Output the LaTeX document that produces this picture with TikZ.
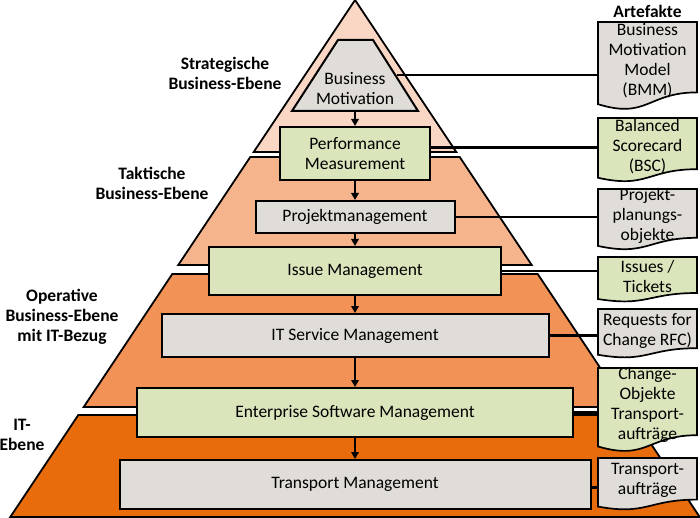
\documentclass[tikz,border=0pt]{standalone}
\usepackage{fontspec}
\setmainfont{Carlito}
\usetikzlibrary{arrows.meta, positioning}
\definecolor{stratfill}{RGB}{250,214,196}
\definecolor{taktfill}{RGB}{245,180,140}
\definecolor{operfill}{RGB}{242,146,86}
\definecolor{itfill}{RGB}{232,108,12}
\definecolor{boxgrey}{RGB}{224,220,215}
\definecolor{boxgreen}{RGB}{218,229,188}

\tikzset{
  ebene/.style={draw=black, line width=1.8pt},
  kasten/.style={draw=black, line width=2pt, inner sep=0pt, align=center},
  ebenetext/.style={font=\bfseries, align=center},
  doktext/.style={align=center, minimum width=99pt, inner sep=0pt},
  dokument/.style={draw=black, line width=1.7pt},
  pfeil/.style={line width=1.8pt, -{Triangle[length=7pt,width=7.5pt]}},
  linie/.style={line width=2.4pt},
}

\begin{document}
\fontsize{17.5}{20}\selectfont
\begin{tikzpicture}[x=1pt, y=-1pt]
  \useasboundingbox (0,0) rectangle (700,518);

  % pyramid bands
  \filldraw[ebene, fill=stratfill] (355,0) -- (456.3,152) -- (253.7,152) -- cycle;
  \filldraw[ebene, fill=taktfill] (250.3,157) -- (459.7,157) -- (531.7,265) -- (178.3,265) -- cycle;
  \filldraw[ebene, fill=operfill] (172.3,274) -- (537.7,274) -- (626.3,407) -- (83.7,407) -- cycle;
  \filldraw[ebene, fill=itfill] (78.3,415) -- (631.7,415) -- (699.7,517) -- (10.3,517) -- cycle;

  % business motivation
  \filldraw[kasten, fill=boxgrey] (338,40) -- (373,40) -- (418,111) -- (292,111) -- cycle;
  \node[align=center] (bm) at (355,89) {Business\\Motivation};
  \coordinate (bmfuss) at (355,111);
  \coordinate (bmrand) at (397,75);

  % boxes
  \node[kasten, fill=boxgreen, minimum width=150pt, minimum height=53pt] (pm) at (355,153.5) {Performance\\Measurement};
  \node[kasten, fill=boxgrey, minimum width=199pt, minimum height=32pt, below=19pt of pm] (pj) {Projektmanagement};
  \node[kasten, fill=boxgreen, minimum width=292pt, minimum height=48pt, below=12pt of pj] (im) {Issue Management};
  \node[kasten, fill=boxgrey, minimum width=387pt, minimum height=43pt, below=17pt of im] (itsm) {IT Service Management};
  \node[kasten, fill=boxgreen, minimum width=436pt, minimum height=49pt, below=29pt of itsm] (esm) {Enterprise Software Management};
  \node[kasten, fill=boxgrey, minimum width=471pt, minimum height=49pt, below=21pt of esm] (tm) {Transport Management};

  % level labels
  \node[ebenetext] (strat) at (225,73) {Strategische\\Business-Ebene};
  \node[ebenetext] (takt) at (152,183) {Taktische\\Business-Ebene};
  \node[ebenetext] (oper) at (62,317) {Operative\\Business-Ebene\\mit IT-Bezug};
  \node[ebenetext] (itebene) at (22,435) {IT-\\Ebene};

  % artefacts
  \node[font=\bfseries] (artefakte) at (647.5,11) {Artefakte};
  \foreach \n/\yt/\yb/\fc/\txt in {
      bmm/22/110/boxgrey/{Business\\Motivation\\Model\\(BMM)},
      bsc/118/182/boxgreen/{Balanced\\Scorecard\\(BSC)},
      ppo/189/250/boxgrey/{Projekt-\\planungs-\\objekte},
      iss/257/302/boxgreen/{Issues /\\Tickets},
      rfc/309/358/boxgrey/{Requests for\\Change RFC)},
      cho/368/452/boxgreen/{Change-\\Objekte\\Transport-\\aufträge},
      tpa/458/510/boxgrey/{Transport-\\aufträge}}{
    \filldraw[dokument, fill=\fc] (598,\yt) -- (697,\yt) -- (697,{\yt+0.8*(\yb-\yt)})
      .. controls (647.5,{\yt+0.8*(\yb-\yt)}) and (647.5,{\yt+1.107*(\yb-\yt)}) .. (598,{\yt+0.934*(\yb-\yt)}) -- cycle;
    \node[doktext] (\n) at (647.5,{\yt+0.44*(\yb-\yt)}) {\txt};
  }

  % arrows
  \draw[pfeil] (bmfuss) -- (pm);
  \draw[pfeil] (pm) -- (pj);
  \draw[pfeil] (pj) -- (im);
  \draw[pfeil] (im) -- (itsm);
  \draw[pfeil] (itsm) -- (esm);
  \draw[pfeil] (esm) -- (tm);

  % links to artefacts
  \draw[linie] (bmrand) -- (bmrand -| bmm.west);
  \draw[linie] ([yshift=6pt]pm.east) -- ([yshift=6pt]pm.east -| bsc.west);
  \draw[linie] (pj.east) -- (pj.east -| ppo.west);
  \draw[linie] (im.east) -- (im.east -| iss.west);
  \draw[linie] (itsm.east) -- (itsm.east -| rfc.west);
  \draw[linie] (esm.east) -- (esm.east -| cho.west);
  \draw[linie] ([yshift=-3pt]tm.east) -- ([yshift=-3pt]tm.east -| tpa.west);
\end{tikzpicture}
\end{document}
